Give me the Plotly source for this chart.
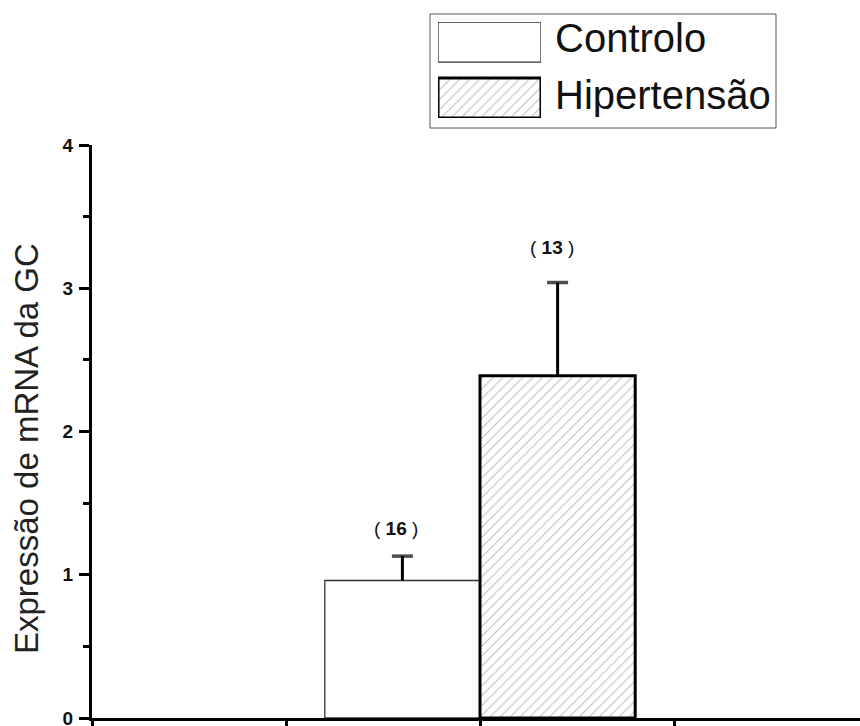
import plotly.graph_objects as go

# ---- data ----
groups = ["Controlo", "Hipertensão"]
means = [0.96, 2.39]
errors = [0.17, 0.65]
n_values = [16, 13]
y_ticks = [0, 1, 2, 3, 4]

# ---- geometry (page pixels; body margin removed by post_script) ----
W, H = 860, 726
ML, MR, MT, MB = 92, 0, 10, 8
PW, PH = W - ML - MR, H - MT - MB


def px(x):  # page pixel -> paper x
    return (x - ML) / PW


def py(y):  # page pixel -> paper y
    return (H - MB - y) / PH


FONT = "Liberation Sans, Arial, sans-serif"
group_pos = 2.0
bar_w = 0.8
offsets = [-bar_w, 0.0]
line_w = [1.3, 3]
line_c = ["#333333", "#000000"]
hatch = ["", "/"]
pattern_kw = dict(fgcolor="#7a7a7a", bgcolor="white", size=7, solidity=0.15)

fig = go.Figure()
for i, g in enumerate(groups):
    fig.add_trace(go.Bar(
        x=[group_pos], y=[means[i]], name=g,
        offset=offsets[i], width=bar_w,
        marker=dict(color="white",
                    line=dict(color=line_c[i], width=line_w[i]),
                    pattern=dict(shape=hatch[i], **pattern_kw)),
        showlegend=False, hoverinfo="skip",
    ))
    # legend swatch drawn on a small auxiliary axis
    fig.add_trace(go.Bar(
        x=[0.5], y=[0.417], base=[0.583 if i == 0 else 0.0], width=[1.0],
        marker=dict(color="white",
                    line=dict(color=line_c[i], width=line_w[i]),
                    pattern=dict(shape=hatch[i], **pattern_kw)),
        xaxis="x2", yaxis="y2", showlegend=False, hoverinfo="skip", cliponaxis=False,
    ))

# upward-only error bars (stem + cap at the top)
for i, g in enumerate(groups):
    cx = group_pos + offsets[i] + bar_w / 2
    fig.add_trace(go.Scatter(
        x=[cx, cx], y=[means[i], means[i] + errors[i]],
        mode="lines+markers",
        line=dict(color="black", width=3),
        marker=dict(symbol="line-ew-open", size=[0, 15],
                    line=dict(color="black", width=3.5)),
        showlegend=False, hoverinfo="skip",
    ))

annotations = []
label_shift = [28, 35]
for i, g in enumerate(groups):
    annotations.append(dict(
        x=group_pos + offsets[i] + bar_w / 2, y=means[i] + errors[i],
        xref="x", yref="y", text=f"( <b>{n_values[i]}</b> )",
        showarrow=False, yanchor="middle", yshift=label_shift[i], xshift=-6,
        font=dict(family=FONT, size=19, color="#111111"),
    ))
    annotations.append(dict(
        x=px(553), y=py(38 if i == 0 else 95), xref="paper", yref="paper",
        text=g, showarrow=False, xanchor="left", yanchor="middle",
        font=dict(family=FONT, size=40, color="#111111"),
    ))

annotations.append(dict(
    x=px(26), y=py(449), xref="paper", yref="paper",
    text="Expressão de mRNA da GC", textangle=-90, showarrow=False,
    xanchor="center", yanchor="middle",
    font=dict(family=FONT, size=33, color="#222222"),
))

fig.update_layout(
    width=W, height=H,
    margin=dict(l=ML, r=MR, t=MT, b=MB, pad=0, autoexpand=False),
    paper_bgcolor="white", plot_bgcolor="white",
    barmode="overlay",
    annotations=annotations,
    shapes=[dict(type="rect", xref="paper", yref="paper",
                 x0=px(430), x1=px(776), y0=py(128), y1=py(14),
                 line=dict(color="#555555", width=1))],
    xaxis=dict(range=[0, PW / 194], domain=[0, 1], showgrid=False, zeroline=False,
               showline=True, linecolor="black", linewidth=3, automargin=False,
               ticks="outside", ticklen=9, tickwidth=2.5, tickcolor="black",
               tick0=0, dtick=1, showticklabels=False),
    yaxis=dict(range=[0, 4], domain=[0, py(145)], showgrid=False, zeroline=False,
               showline=True, linecolor="black", linewidth=3, automargin=False,
               ticks="outside", ticklen=10, tickwidth=2.5, tickcolor="black",
               tickvals=y_ticks, ticktext=[f"<b>{v}</b>" for v in y_ticks],
               ticklabelstandoff=2, ticklabeloverflow="allow",
               tickfont=dict(family=FONT, size=19, color="#111111"),
               minor=dict(dtick=0.5, ticks="outside", ticklen=6, tickwidth=2.5,
                          tickcolor="black", showgrid=False)),
    xaxis2=dict(domain=[px(438), px(541)], range=[0, 1], visible=False,
                anchor="y2", fixedrange=True),
    yaxis2=dict(domain=[py(118), py(22)], range=[0, 1], visible=False,
                anchor="x2", fixedrange=True),
)

fig.write_html(
    "out.html",
    config={"displayModeBar": False},
    post_script="document.body.style.margin='0px';document.body.style.overflow='hidden';",
)
